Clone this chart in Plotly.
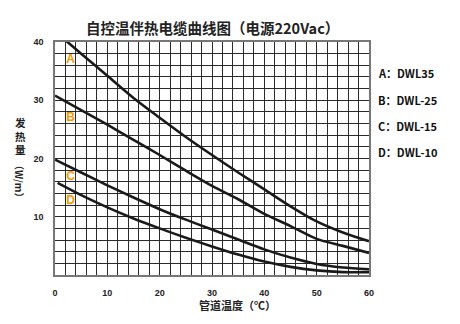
import plotly.graph_objects as go

temps_A = [2, 5, 10, 15, 20, 25, 30, 35, 40, 45, 50, 55, 60]
power_A = [40.3, 38.0, 34.2, 30.4, 27.0, 23.7, 20.6, 17.6, 14.7, 11.8, 9.2, 7.3, 5.8]
temps = [0, 5, 10, 15, 20, 25, 30, 35, 40, 45, 50, 55, 60]
power_B = [30.8, 28.3, 25.8, 23.2, 20.6, 17.9, 15.3, 13.0, 10.5, 8.4, 6.2, 5.0, 3.8]
power_C = [19.8, 17.6, 15.4, 13.3, 11.3, 9.5, 7.8, 6.1, 4.4, 3.0, 1.9, 1.3, 1.0]
temps_D = [0.5, 5, 10, 15, 20, 25, 30, 35, 40, 45, 50, 55, 60]
power_D = [15.8, 13.7, 11.6, 9.7, 8.0, 6.4, 4.9, 3.5, 2.3, 1.4, 0.8, 0.5, 0.5]

curve_labels = ["A", "B", "C", "D"]
label_x = [3, 3, 3, 3]
label_y = [36.9, 26.9, 16.8, 12.7]
legend_texts = ["A：DWL35", "B：DWL-25", "C：DWL-15", "D：DWL-10"]

title = "自控温伴热电缆曲线图（电源220Vac）"
x_title = "管道温度（℃）"

FONT = "Liberation Sans, Arial, Noto Sans CJK SC, sans-serif"
CJK = "Noto Sans CJK SC"

fig = go.Figure()
for xs, ys in [(temps_A, power_A), (temps, power_B), (temps, power_C), (temps_D, power_D)]:
    fig.add_trace(go.Scatter(x=xs, y=ys, mode="lines",
                             line=dict(color="#1a1a1a", width=2.6, shape="spline", smoothing=0.8),
                             showlegend=False, hoverinfo="skip"))

fig.add_trace(go.Scatter(x=label_x, y=label_y, mode="text", text=curve_labels,
                         textfont=dict(color="#F39800", size=12, family=FONT, weight="bold"),
                         showlegend=False, hoverinfo="skip"))

grid_col = "#2a2a2a"
fig.update_xaxes(range=[0, 60], tickmode="array", tickvals=[0, 10, 20, 30, 40, 50, 60],
                 showgrid=True, gridcolor=grid_col, gridwidth=1,
                 minor=dict(dtick=2, showgrid=True, gridcolor=grid_col, gridwidth=1),
                 showline=True, linecolor="#777", linewidth=1.5, mirror=True,
                 zeroline=False, ticks="", ticklabelstandoff=8,
                 tickfont=dict(size=9, color="#222", family=FONT, weight="bold"))
fig.update_yaxes(range=[0, 40], tickmode="array", tickvals=[10, 20, 30, 40],
                 showgrid=True, gridcolor=grid_col, gridwidth=1,
                 minor=dict(dtick=2, showgrid=True, gridcolor=grid_col, gridwidth=1),
                 showline=True, linecolor="#777", linewidth=1.5, mirror=True,
                 zeroline=False, ticks="", ticklabelstandoff=8,
                 tickfont=dict(size=9, color="#222", family=FONT, weight="bold"))

annotations = []
annotations.append(dict(text=title, x=212, y=27, xanchor="center",
                        font=dict(size=14.5, color="#222", family=CJK, weight="bold")))
for i, t in enumerate(legend_texts):
    annotations.append(dict(text=t, x=376, y=[73, 100, 126, 152][i], xanchor="left",
                            font=dict(size=11, color="#111", family=CJK, weight="bold")))
annotations.append(dict(text="发<br>热<br>量", x=20, y=136, xanchor="center",
                        font=dict(size=10.5, color="#222", family=CJK, weight="bold")))
annotations.append(dict(text="（W/m）", x=20, y=181, xanchor="center", textangle=90,
                        font=dict(size=10, color="#222", family=CJK, weight="bold")))
annotations.append(dict(text=x_title, x=237, y=305, xanchor="center",
                        font=dict(size=11, color="#222", family=CJK, weight="bold")))

# convert pixel positions to paper coords
L, R, T, B = 55, 91, 42, 49
W, H = 460, 324
pw, ph = W - L - R, H - T - B
for a in annotations:
    px, py = a["x"], a["y"]
    a["x"] = (px - L) / pw
    a["y"] = 1 - (py - T) / ph
    a["xref"] = "paper"
    a["yref"] = "paper"
    a["yanchor"] = "middle"
    a["showarrow"] = False

fig.update_layout(width=W, height=H, margin=dict(l=L, r=R, t=T, b=B),
                  paper_bgcolor="white", plot_bgcolor="white",
                  annotations=annotations, font=dict(family=FONT))
fig.write_html("out.html")
